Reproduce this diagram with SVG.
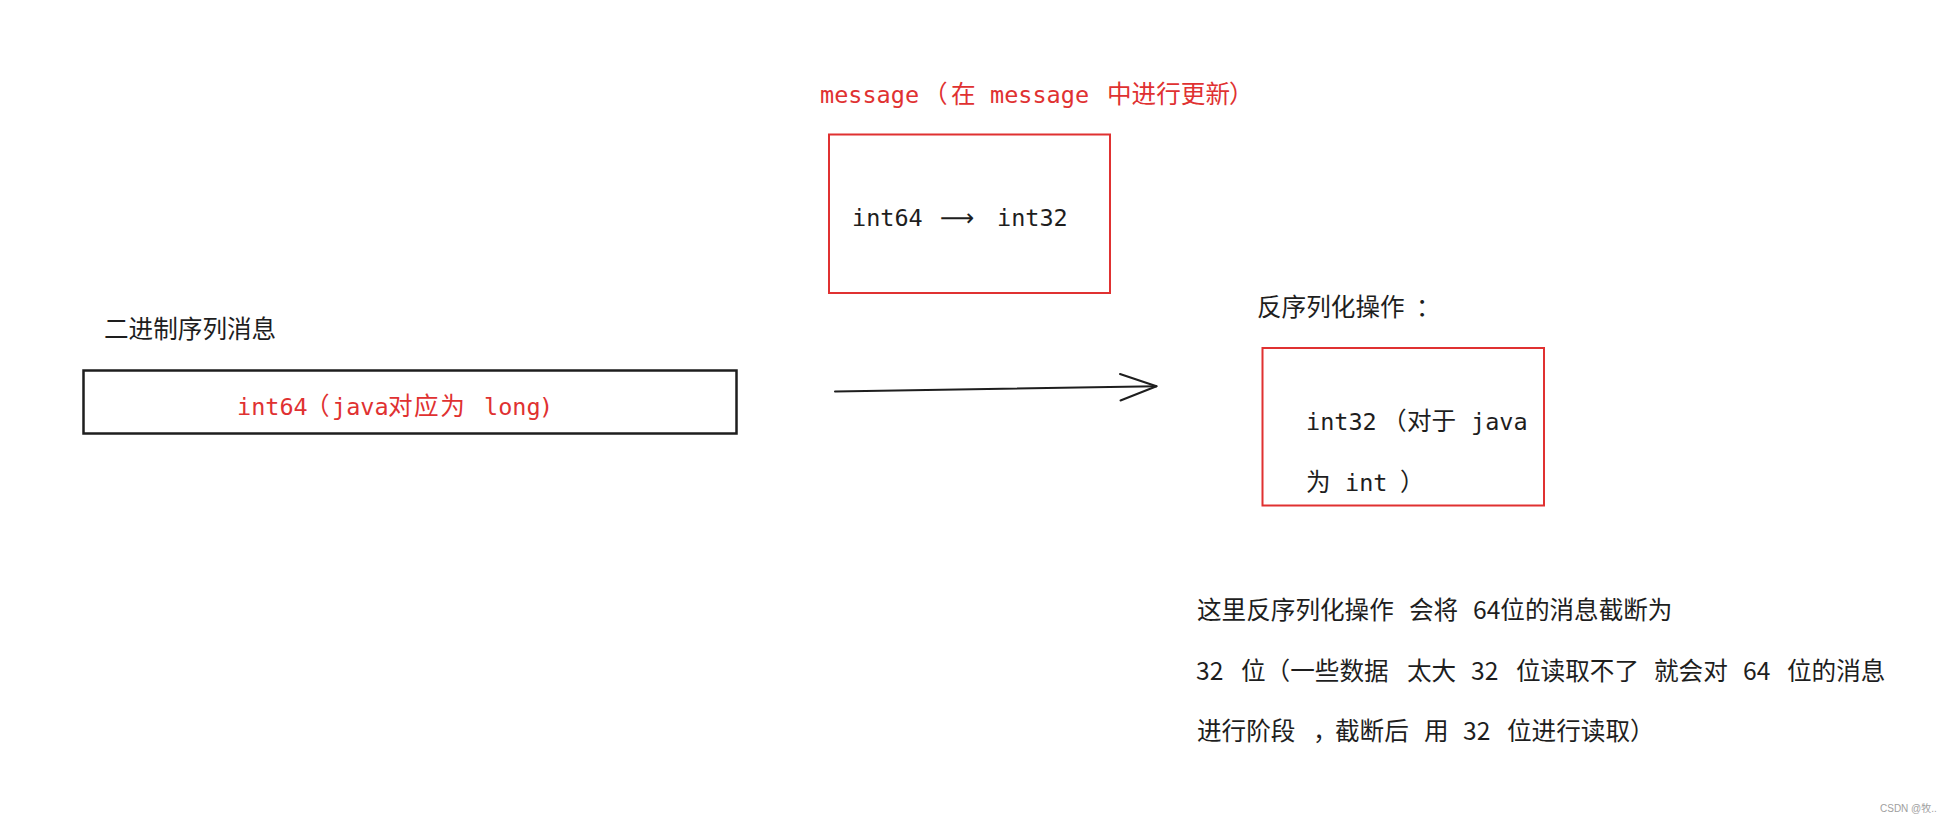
<svg xmlns="http://www.w3.org/2000/svg" width="1948" height="818" viewBox="0 0 1948 818">
  <style>
    .mono { font-family: "DejaVu Sans Mono", "Noto Sans CJK SC", monospace; font-size: 23.5px; }
    .cjk { font-family: "Noto Sans CJK SC", "Noto Sans", sans-serif; font-size: 24.6px; }
    .red { fill: #e03131; }
    .ink { fill: #1e1e1e; }
    .box-red { fill: none; stroke: #e03131; stroke-width: 2; }
    .box-black { fill: none; stroke: #1e1e1e; stroke-width: 2.5; }
    .conn { fill: none; stroke: #1e1e1e; stroke-width: 2; stroke-linecap: round; stroke-linejoin: round; }
  </style>
  <rect width="1948" height="818" fill="#ffffff"/>

  <g id="node-binary">
    <text class="cjk ink" x="104" y="338">二进制序列消息</text>
    <rect class="box-black" x="83.5" y="370.5" width="653" height="63"/>
    <text class="mono red" y="415"><tspan x="237">int64</tspan><tspan x="305" class="cjk">（</tspan><tspan x="332">java</tspan><tspan x="388" class="cjk" letter-spacing="1.5">对应为</tspan><tspan x="484">long</tspan><tspan x="539">)</tspan></text>
  </g>

  <g id="node-message">
    <text class="mono red" y="103"><tspan x="820">message</tspan><tspan x="923" class="cjk">（</tspan><tspan x="951" class="cjk">在</tspan><tspan x="990">message</tspan><tspan x="1107" class="cjk">中进行更新</tspan><tspan x="1229" class="cjk">）</tspan></text>
    <rect class="box-red" x="829" y="134.5" width="281" height="158.5"/>
    <text class="mono ink" y="226"><tspan x="852">int64</tspan><tspan x="940" style="font-family:'DejaVu Sans',sans-serif;font-size:24px">⟶</tspan><tspan x="997">int32</tspan></text>
  </g>

  <g id="node-deserialize">
    <text class="cjk ink" y="316"><tspan x="1257">反序列化操作</tspan><tspan x="1416">：</tspan></text>
    <rect class="box-red" x="1262.5" y="348" width="281.5" height="157.5"/>
    <text class="mono ink" y="430"><tspan x="1306">int32</tspan><tspan x="1382" class="cjk">（</tspan><tspan x="1407" class="cjk">对于</tspan><tspan x="1471">java</tspan></text>
    <text class="mono ink" y="491"><tspan x="1306" class="cjk">为</tspan><tspan x="1345">int</tspan><tspan x="1400" class="cjk">）</tspan></text>
  </g>

  <g id="node-note">
    <text class="cjk ink" y="619"><tspan x="1197">这里反序列化操作</tspan><tspan x="1409">会将</tspan><tspan x="1473">64位的消息截断为</tspan></text>
    <text class="cjk ink" y="680"><tspan x="1196">32</tspan><tspan x="1241">位（一些数据</tspan><tspan x="1407">太大</tspan><tspan x="1471">32</tspan><tspan x="1516">位读取不了</tspan><tspan x="1654">就会对</tspan><tspan x="1743">64</tspan><tspan x="1787">位的消息</tspan></text>
    <text class="cjk ink" y="740"><tspan x="1197">进行阶段</tspan><tspan x="1313">，</tspan><tspan x="1335">截断后</tspan><tspan x="1424">用</tspan><tspan x="1463">32</tspan><tspan x="1507">位进行读取）</tspan></text>
  </g>

  <g id="connectors">
    <path class="conn" d="M835 391.5 L1156.5 386.3"/>
    <path class="conn" d="M1120 374 L1156.5 386.3 L1120.5 400.5"/>
  </g>

  <text x="1880" y="812" style="font-family:'Liberation Sans','Noto Sans CJK SC',sans-serif;font-size:10px;fill:#a0a0a0">CSDN @牧..</text>
</svg>
